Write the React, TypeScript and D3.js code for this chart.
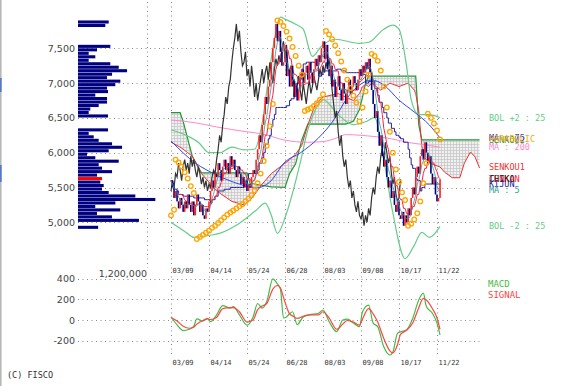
import React from "react";
import * as d3 from "d3";

// stock chart: candles + ichimoku + bollinger + parabolic, volume profile, macd
const W = 564;
const H = 386;

const tickDays = [0, 25, 50, 75, 100, 125, 150, 175];
const tickLabels = ["03/09", "04/14", "05/24", "06/28", "08/03", "09/08", "10/17", "11/22"];
const priceTicks = [5000, 5500, 6000, 6500, 7000, 7500];
const macdTicks = [400, 200, 0, -200];

// daily closes, day 0 = 03/09
const closes = [
  5600, 5500, 5350, 5450, 5300, 5200, 5350, 5250, 5150, 5300, 5200, 5400, 5250,
  5150, 5300, 5100, 5250, 5400, 5300, 5150, 5250, 5100, 5050, 5200, 5150, 5300,
  5450, 5600, 5500, 5700, 5650, 5850, 5750, 5600, 5800, 5900, 5750, 5850, 5700, 5950,
  5800, 5900, 5750, 5650, 5800, 5700, 5550, 5650, 5500, 5600, 5450,
  5550, 5500, 5650, 5750, 5700, 5900,
  6050, 6250, 6150, 6400, 6550, 6800, 6700, 6950, 7050, 7300,
  7500, 7650, 7850, 7600, 7750, 7450, 7250,
  7300, 7450, 7100, 7200, 6950, 7250, 7050, 6800, 7000, 6750, 6900, 7050,
  7200, 7000, 7150, 7250, 7050, 7300, 7150, 7000, 7200, 7350, 7250, 7400, 7300, 7500,
  7600, 7350, 7550, 7200, 7100, 7250, 6950, 7050, 6800,
  6950, 7100, 6900, 6750, 7000, 6850, 6700, 6900, 7050, 6850, 6950, 7100, 7000, 6900, 7050, 7200,
  7100, 7250, 7150, 7300, 7200, 7350, 7150, 6900,
  6700, 6500, 6600, 6300, 6100, 6250, 5950, 5800, 5900, 5650, 5500, 5600, 5350, 5450, 5250, 5150, 5300, 5100,
  5050, 5150, 4950, 5100, 5000, 5200, 5100, 5350,
  5500, 5400, 5650, 5800, 5700, 5950, 6050, 5900, 6150, 6000, 5850,
  5950, 5700, 5550, 5650, 5400, 5300, 5350, 5620,
];

// [day, value]
const ma75: [number, number][] = [
  [0, 6168], [16, 5852], [30, 5680], [45, 5549], [56, 5493], [65, 5579], [75, 5866], [85, 5996],
  [97, 6211], [108, 6499], [115, 6756], [124, 6972], [132, 7044], [140, 6972], [150, 6756],
  [160, 6585], [170, 6398], [177, 6211],
];
const ma200: [number, number][] = [
  [0, 6470], [16, 6430], [30, 6370], [50, 6300], [60, 6270], [75, 6180], [90, 6150], [100, 6160],
  [110, 6220], [115, 6260], [125, 6250], [135, 6230], [145, 6200], [155, 6150], [165, 6120], [177, 6080],
];
const bolUpper: [number, number][] = [
  [0, 6330], [10, 6250], [18, 6150], [25, 6000], [32, 6000], [40, 6080], [48, 6040], [55, 6050],
  [60, 6431], [64, 7052], [68, 7630], [72, 7948], [75, 7919], [82, 7847], [87, 7774], [93, 7384],
  [99, 7529], [108, 7630], [124, 7572], [130, 7587], [140, 7774], [146, 7832], [150, 7774],
  [155, 7240], [158, 6763], [163, 6546], [170, 6546], [177, 6503],
];
const bolLower: [number, number][] = [
  [0, 5000], [10, 4855], [15, 4783], [25, 4812], [32, 4841], [45, 4986], [56, 5173], [62, 5275],
  [66, 5101], [70, 4841], [76, 5130], [85, 5853], [90, 6330], [95, 6618], [100, 6763], [110, 6546],
  [120, 6402], [128, 6445], [134, 6503], [140, 5896], [146, 5130], [154, 4480], [160, 4668],
  [165, 4855], [170, 4783], [177, 4942],
];

const senkouDays = [
  0, 6, 8, 11, 14, 20, 30, 40, 48, 50, 52, 55, 60, 66, 75, 78, 82, 86, 90, 95, 100, 110, 115, 120,
  124, 126, 128, 130, 132, 138, 144, 150, 156, 160, 161, 163, 165, 166, 170, 177, 180, 185, 190,
  193, 197, 200, 203,
];
const senkou1 = [
  6150, 6080, 6050, 6000, 5950, 5700, 5450, 5300, 5250, 5280, 5320, 5400, 5550, 5700, 5850, 5900,
  5980, 6100, 6400, 6700, 6800, 6850, 6800, 6750, 6850, 6950, 6980, 6950, 7000, 6900, 7000, 6950,
  7000, 6900, 6850, 6600, 6100, 5950, 5850, 5795, 5720, 5640, 5640, 5850, 6010, 5940, 5780,
];
const senkou2 = [
  6575, 6575, 6450, 6200, 5950, 5710, 5710, 5710, 5710, 5710, 5560, 5550, 5530, 5510, 5500, 5700,
  5840, 6180, 6410, 6410, 6410, 6410, 6410, 6450, 6620, 6800, 7000, 7100, 7100, 7100, 7100, 7100,
  7100, 7100, 7100, 6400, 6185, 6185, 6185, 6185, 6185, 6185, 6185, 6185, 6185, 6185, 6185,
];

const sar: [number, number][] = [
  [0, 5100], [2, 5180],
  [3, 5900], [5, 5860], [7, 5800], [9, 5720], [11, 5630], [13, 5520], [15, 5420],
  [17, 4760], [19, 4790], [21, 4820], [23, 4850], [25, 4880], [27, 4920], [29, 4950], [31, 4990],
  [33, 5030], [35, 5070], [37, 5110], [39, 5140], [41, 5170], [43, 5200], [45, 5230], [47, 5260],
  [49, 5300], [51, 5340], [53, 5390], [55, 5460], [57, 5560], [59, 5700], [61, 5880], [63, 6100],
  [65, 6380], [67, 6700],
  [70, 7900], [72, 7880], [74, 7820], [76, 7740], [78, 7640], [80, 7520], [82, 7390], [84, 7250], [86, 7120],
  [88, 6600], [90, 6620], [92, 6640], [94, 6670], [96, 6710], [98, 6760], [100, 6840],
  [102, 7750], [104, 7700], [106, 7630], [108, 7540], [110, 7430], [112, 7310], [114, 7180],
  [116, 7050], [118, 6930], [120, 6820], [122, 6720],
  [124, 6450], [126, 6650], [128, 6880], [130, 7120],
  [132, 7420], [134, 7390], [136, 7320], [138, 7180], [140, 6950], [142, 6650], [144, 6300],
  [146, 6000], [148, 5760], [150, 5580], [152, 5430], [154, 5320],
  [156, 4950], [158, 4980], [160, 5040], [162, 5130], [164, 5300], [166, 5560], [168, 5850],
  [169, 6560], [171, 6500], [173, 6420], [175, 6320], [177, 6190],
];

// [day, macd, signal]
const macd: [number, number, number][] = [
  [0, 32, 25], [4, -48, -10], [8, -103, -60], [12, -90, -80], [15, -60, -70], [17, 10, -40],
  [21, -10, -5], [24, 15, 10], [26, -15, 5], [30, 50, 25], [34, 140, 110], [39, 115, 120],
  [41, 130, 120], [45, 50, 80], [50, -50, -20], [54, 30, 0], [57, 160, 100], [60, 115, 135],
  [63, 180, 160], [67, 400, 300], [70, 350, 335], [72, 300, 310], [74, 20, 220], [76, 30, 130],
  [78, 60, 60], [80, 80, 40], [83, -45, 15], [87, 30, 35], [91, 50, 50], [97, 65, 50],
  [100, 97, 80], [104, -15, 20], [109, -113, -90], [113, 0, -40], [116, 8, -5], [120, -30, -20],
  [124, -65, -50], [126, 80, 10], [130, 145, 110], [133, -30, 60], [136, -65, -20],
  [140, -260, -180], [144, -340, -300], [146, -310, -320], [149, -130, -240], [151, -115, -140],
  [155, -95, -100], [159, 15, -30], [163, 195, 120], [166, 260, 210], [168, 130, 195],
  [172, 65, 110], [175, -30, 20], [177, -145, -90],
];

// volume profile, 50 yen bins (bin low), volume in thousands
const profileBins = [
  7850, 7800, 7500, 7450, 7400, 7350, 7300, 7250, 7200, 7150, 7100, 7050, 7000,
  6950, 6900, 6850, 6800, 6750, 6700, 6650, 6600, 6550, 6500,
  6300, 6250, 6200, 6150, 6100, 6050, 6000,
  5950, 5900, 5850, 5800, 5750, 5700, 5650, 5600, 5550, 5500,
  5450, 5400, 5350, 5300, 5250, 5200, 5150, 5100, 5050, 5000, 4900,
];
const profileVolumes = [
  534, 475, 562, 330, 186, 301, 186, 562, 708, 853, 592, 505, 736,
  649, 505, 522, 301, 505, 505, 360, 214, 186, 522,
  522, 186, 273, 360, 592, 766, 534,
  157, 301, 708, 360, 418, 592, 331, 418, 388, 447,
  418, 534, 997, 1345, 650, 300, 735, 330, 590, 1060, 350,
];

const C = {
  up: "#ff2020",
  down: "#000080",
  ma5: "#339999",
  ma75: "#3344ee",
  ma200: "#ff88cc",
  bol: "#66cc88",
  s1: "#ee3333",
  s2: "#229933",
  tenkan: "#ff2244",
  kijun: "#222299",
  chiko: "#333333",
  sar: "#ffa500",
  macd: "#44bb44",
  signal: "#ff4444",
  grid: "#888888",
  text: "#444444",
};

const mono = "DejaVu Sans Mono, monospace";
const sans = "DejaVu Sans, Verdana, sans-serif";

const x = d3.scaleLinear().domain([0, 175]).range([171, 437]);
const y = d3.scaleLinear().domain([5000, 7500]).range([222.3, 48.3]);
const yM = d3.scaleLinear().domain([-200, 400]).range([340.6, 278.8]);
const xv = d3.scaleLinear().domain([0, 1200]).range([78, 147]);

const midOf = (arr: number[], i: number, n: number) => {
  const s = arr.slice(Math.max(0, i - n + 1), i + 1);
  return ((d3.max(s) as number) + (d3.min(s) as number)) / 2;
};

const ma5 = closes.map((_, i) => [i, d3.mean(closes.slice(Math.max(0, i - 4), i + 1)) as number] as [number, number]);
const tenkan = closes.map((_, i) => [i, midOf(closes, i, 9)] as [number, number]);
const kijun = closes.map((_, i) => [i, midOf(closes, i, 26)] as [number, number]);
const chiko = closes.map((c, i) => [i - 26, c] as [number, number]).filter((d) => d[0] >= 0);
const senkou = senkouDays.map((d, i) => ({ d, s1: senkou1[i], s2: senkou2[i] }));

const last = (a: [number, number][]) => a[a.length - 1][1];
const atDay = (d: number) => senkou.find((s) => s.d === d)!;

const smooth = d3.line<[number, number]>().x((d) => x(d[0])).y((d) => y(d[1])).curve(d3.curveMonotoneX);
const straight = d3.line<[number, number]>().x((d) => x(d[0])).y((d) => y(d[1]));
const cloud = d3
  .area<{ d: number; s1: number; s2: number }>()
  .x((d) => x(d.d))
  .y0((d) => y(d.s1))
  .y1((d) => y(d.s2));
const macdLine = d3.line<[number, number, number]>().x((d) => x(d[0])).y((d) => yM(d[1])).curve(d3.curveMonotoneX);
const signalLine = d3.line<[number, number, number]>().x((d) => x(d[0])).y((d) => yM(d[2])).curve(d3.curveMonotoneX);

const lastClose = closes[closes.length - 1];
const binH = y(5000) - y(5050);

const legend = [
  { t: "BOL +2 : 25", c: C.bol, v: last(bolUpper) },
  { t: "MA : 200", c: C.ma200, v: last(ma200) },
  { t: "SENKOU2", c: C.s2, v: atDay(177).s2 },
  { t: "MA : 75", c: C.ma75, v: last(ma75) },
  { t: "PARABOLIC", c: C.sar, v: last(sar) },
  { t: "KIJUN", c: C.kijun, v: last(kijun) },
  { t: "TENKAN", c: C.tenkan, v: last(tenkan) },
  { t: "SENKOU1", c: C.s1, v: atDay(177).s1 },
  { t: "MA : 5", c: C.ma5, v: last(ma5) },
  { t: "CHIKO", c: "#222", v: lastClose },
  { t: "BOL -2 : 25", c: C.bol, v: last(bolLower) },
];

const px = (v: number) => Math.round(v) + 0.5;

export default function App() {
  return (
    <svg width={W} height={H} style={{ position: "absolute", left: 0, top: 0, background: "#fff" }}>
      <defs>
        <pattern id="cloudfill" width="3" height="3" patternUnits="userSpaceOnUse">
          <rect width="3" height="3" fill="#f0f0f0" />
          <path d="M0 0.5H3M0.5 0V3" stroke="#c4c4c4" strokeWidth="0.7" />
        </pattern>
      </defs>
      <rect width={W} height={H} fill="#fff" />
      <rect x={0} y={0} width={1.6} height={H} fill="#b8b8b8" />
      <rect x={0} y={78} width={1.6} height={14} fill="#5577cc" />
      <rect x={0} y={165} width={1.6} height={17} fill="#5577cc" />

      {/* grid */}
      <g stroke={C.grid} strokeWidth={1} strokeDasharray="1 3.5" fill="none">
        {priceTicks.map((p) => (
          <line key={p} x1={78} x2={480} y1={px(y(p))} y2={px(y(p))} />
        ))}
        {macdTicks.map((m) => (
          <line key={m} x1={78} x2={480} y1={px(yM(m))} y2={px(yM(m))} />
        ))}
        {tickDays.map((d) => (
          <line key={d} x1={px(x(d))} x2={px(x(d))} y1={2} y2={357} />
        ))}
        <line x1={px(xv(1200))} x2={px(xv(1200))} y1={2} y2={268} />
      </g>

      {/* volume profile */}
      {profileBins.map((b, i) => (
        <rect
          key={b}
          x={xv(0)}
          y={y(b + 50)}
          width={xv(profileVolumes[i]) - xv(0)}
          height={binH - 0.4}
          fill={lastClose >= b && lastClose < b + 50 ? "#ff0000" : "#000080"}
        />
      ))}

      {/* ichimoku cloud */}
      <path d={cloud(senkou) || ""} fill="url(#cloudfill)" />
      <path d={straight(senkou.map((s) => [s.d, s.s2] as [number, number])) || ""} stroke={C.s2} strokeWidth={1.2} fill="none" />
      <path d={straight(senkou.map((s) => [s.d, s.s1] as [number, number])) || ""} stroke={C.s1} strokeWidth={1} fill="none" />

      <path d={smooth(ma200) || ""} stroke={C.ma200} strokeWidth={1} fill="none" />
      <path d={smooth(bolUpper) || ""} stroke={C.bol} strokeWidth={1.2} fill="none" />
      <path d={smooth(bolLower) || ""} stroke={C.bol} strokeWidth={1.2} fill="none" />
      <path d={smooth(ma75) || ""} stroke={C.ma75} strokeWidth={1} fill="none" />
      <path d={straight(chiko) || ""} stroke={C.chiko} strokeWidth={1.2} fill="none" />
      <path d={d3.line<[number, number]>().x((d) => x(d[0])).y((d) => y(d[1])).curve(d3.curveStepAfter)(kijun) || ""} stroke={C.kijun} strokeWidth={1} fill="none" />
      <path d={straight(tenkan) || ""} stroke={C.tenkan} strokeWidth={1} fill="none" />

      {/* candles */}
      {closes.map((c, i) => {
        const o = i > 0 ? closes[i - 1] : c;
        const top = y(Math.max(o, c));
        const h = Math.max(1, Math.abs(y(o) - y(c)));
        return (
          <rect key={i} x={x(i) - 0.8} y={top} width={1.6} height={h} fill={c >= o ? C.up : C.down} />
        );
      })}
      <path d={straight(ma5) || ""} stroke={C.ma5} strokeWidth={0.8} fill="none" />

      {/* parabolic */}
      {sar.map((s, i) => (
        <circle key={i} cx={x(s[0])} cy={y(s[1])} r={2.3} fill="none" stroke={C.sar} strokeWidth={1.3} />
      ))}

      {/* price axis labels */}
      <g fontFamily={sans} fontSize={9.5} fill={C.text} textAnchor="end">
        {priceTicks.map((p) => (
          <text key={p} x={75} y={y(p) + 3.5}>
            {d3.format(",")(p)}
          </text>
        ))}
        {macdTicks.map((m) => (
          <text key={m} x={75} y={yM(m) + 3.5}>
            {m}
          </text>
        ))}
        <text x={147} y={277}>1,200,000</text>
      </g>

      {/* date labels */}
      <g fontFamily={mono} fontSize={7} fill="#333">
        {tickDays.map((d, i) => (
          <React.Fragment key={d}>
            <text x={px(x(d)) + 1} y={273}>{tickLabels[i]}</text>
            <text x={px(x(d)) + 1} y={364.5}>{tickLabels[i]}</text>
          </React.Fragment>
        ))}
      </g>

      {/* macd */}
      <path d={macdLine(macd) || ""} stroke={C.macd} strokeWidth={1.2} fill="none" />
      <path d={signalLine(macd) || ""} stroke={C.signal} strokeWidth={1.2} fill="none" />

      {/* legends */}
      <g fontFamily={mono} fontSize={8.5}>
        {legend.map((l) => (
          <text key={l.t} x={489} y={y(l.v) + 3} fill={l.c}>
            {l.t}
          </text>
        ))}
        <text x={488} y={286.5} fill={C.macd} fontSize={9}>MACD</text>
        <text x={488} y={297.5} fill={C.signal} fontSize={9}>SIGNAL</text>
      </g>

      <text x={7} y={378} fontFamily={mono} fontSize={8.5} fill="#333">(C) FISCO</text>
    </svg>
  );
}
